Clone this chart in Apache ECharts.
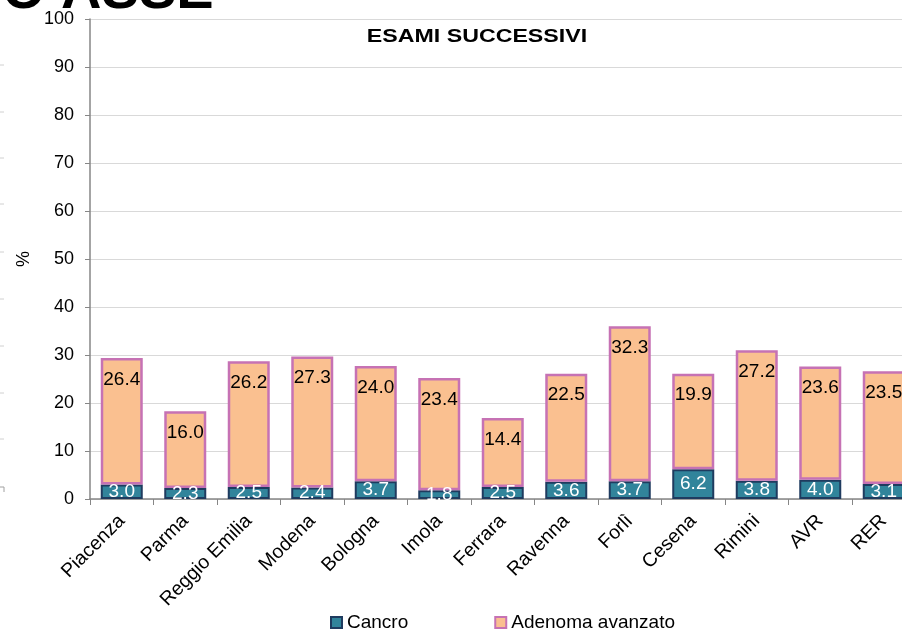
<!DOCTYPE html>
<html>
<head>
<meta charset="utf-8">
<script src="https://cdn.jsdelivr.net/npm/echarts@6/dist/echarts.min.js"></script>
<style>
html,body{margin:0;padding:0;background:#fff;}
#chart{width:902px;height:630px;}
</style>
</head>
<body>
<div id="chart"></div>
<script>
var categories = ['Piacenza','Parma','Reggio Emilia','Modena','Bologna','Imola','Ferrara','Ravenna','Forlì','Cesena','Rimini','AVR','RER'];
var cancro = [3.0, 2.3, 2.5, 2.4, 3.7, 1.8, 2.5, 3.6, 3.7, 6.2, 3.8, 4.0, 3.1];
var adenoma = [26.4, 16.0, 26.2, 27.3, 24.0, 23.4, 14.4, 22.5, 32.3, 19.9, 27.2, 23.6, 23.5];
var yTicks = [0,10,20,30,40,50,60,70,80,90,100];

var FONT = '"Liberation Sans", Arial, sans-serif';
var chart = echarts.init(document.getElementById('chart'), null, {renderer:'canvas'});

var leftTicks = [];
[65,112,158,204,252,299,346,393,439].forEach(function(y){
  leftTicks.push({type:'line', shape:{x1:0,y1:y,x2:4,y2:y}, style:{stroke:'#d0d0d0', lineWidth:1}, silent:true});
});
leftTicks.push({type:'polyline', shape:{points:[[0,487],[4,487],[4,492]]}, style:{stroke:'#a0a0a0', lineWidth:1, fill:null}, silent:true});

chart.setOption({
  animation:false,
  backgroundColor:'#fff',
  textStyle:{fontFamily:FONT},
  graphic: [
    {type:'text', x:2, y:-35, style:{text:'O ASSE', font:'bold 56px ' + FONT, fill:'#000', textAlign:'left', textVerticalAlign:'top'}, silent:true},
    {type:'text', x:477, y:37, scaleX:1.22, style:{text:'ESAMI SUCCESSIVI', font:'bold 19px ' + FONT, fill:'#000', textAlign:'center', textVerticalAlign:'middle'}, silent:true}
  ].concat(leftTicks),
  grid:{left:90, top:19, width:825.5, bottom:131, containLabel:false, outerBoundsMode:'none'},
  legend:{
    left:325, top:608,
    itemWidth:11, itemHeight:11, itemGap:86,
    icon:'rect',
    textStyle:{fontSize:19, color:'#000', fontFamily:FONT},
    data:[
      {name:'Cancro', itemStyle:{color:'#31849B', borderColor:'#1F3B5F', borderWidth:2}},
      {name:'Adenoma avanzato', itemStyle:{color:'#FAC090', borderColor:'#C672B4', borderWidth:2}}
    ]
  },
  xAxis:{
    type:'category', data:categories, boundaryGap:true,
    axisLine:{lineStyle:{color:'#868686', width:1.5}},
    axisTick:{show:true, interval:0, length:6, lineStyle:{color:'#868686'}},
    axisLabel:{interval:0, rotate:45, fontSize:19.5, color:'#000', margin:19, fontFamily:FONT}
  },
  yAxis:{
    type:'value', min:0, max:100, interval:10,
    name:'%', nameLocation:'middle', nameRotate:90, nameGap:49,
    nameTextStyle:{fontSize:18, color:'#000', fontFamily:FONT},
    axisLine:{show:true, lineStyle:{color:'#868686', width:1.5}},
    axisTick:{show:true, length:5, lineStyle:{color:'#868686'}},
    axisLabel:{fontSize:18, color:'#000', margin:16, fontFamily:FONT,
      formatter:function(v){return yTicks.indexOf(v)>=0 ? String(v) : '';}},
    splitLine:{show:true, lineStyle:{color:'#D9D9D9', width:1.2}}
  },
  series:[
    {
      name:'Cancro', type:'bar', stack:'tot', data:cancro, barWidth:42,
      itemStyle:{color:'#31849B', borderColor:'#1F3B5F', borderWidth:2},
      label:{show:true, position:'inside', color:'#fff', fontSize:19, fontFamily:FONT,
        formatter:function(p){return p.value.toFixed(1);}}
    },
    {
      name:'Adenoma avanzato', type:'bar', stack:'tot', data:adenoma, barWidth:42,
      itemStyle:{color:'#FAC090', borderColor:'#C672B4', borderWidth:2.5},
      label:{show:true, position:'insideTop', distance:12, color:'#000', fontSize:19, fontFamily:FONT,
        formatter:function(p){return p.value.toFixed(1);}}
    }
  ]
});
</script>
</body>
</html>
